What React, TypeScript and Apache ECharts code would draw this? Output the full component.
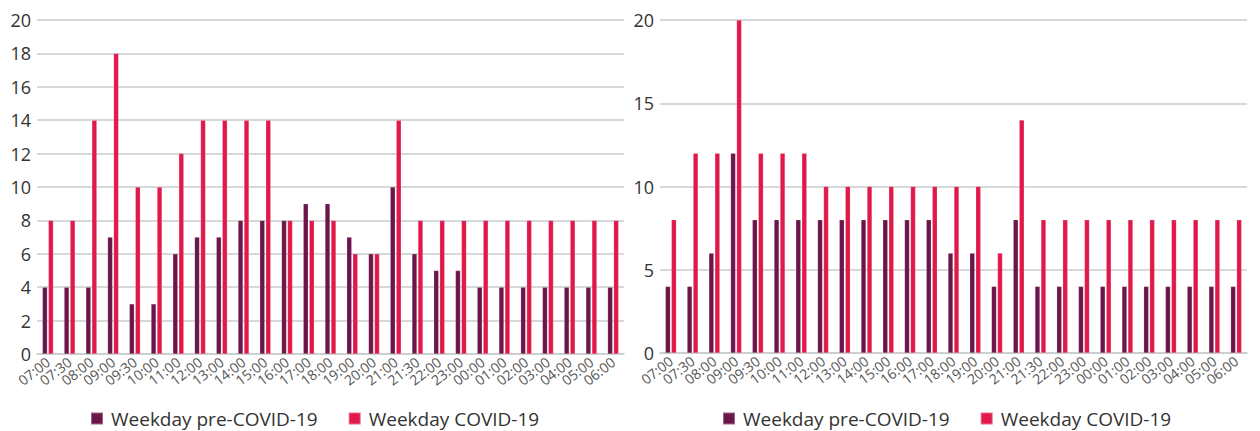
import React, { useEffect, useRef } from "react";
import * as echarts from "echarts";

const categories = ["07:00","07:30","08:00","09:00","09:30","10:00","11:00","12:00","13:00","14:00","15:00","16:00","17:00","18:00","19:00","20:00","21:00","21:30","22:00","23:00","00:00","01:00","02:00","03:00","04:00","05:00","06:00"];

const leftPre = [4,4,4,7,3,3,6,7,7,8,8,8,9,9,7,6,10,6,5,5,4,4,4,4,4,4,4];
const leftCovid = [8,8,14,18,10,10,12,14,14,14,14,8,8,8,6,6,14,8,8,8,8,8,8,8,8,8,8];
const rightPre = [4,4,6,12,8,8,8,8,8,8,8,8,8,6,6,4,8,4,4,4,4,4,4,4,4,4,4];
const rightCovid = [8,12,12,20,12,12,12,10,10,10,10,10,10,10,10,6,14,8,8,8,8,8,8,8,8,8,8];

const seriesNames = ["Weekday pre-COVID-19", "Weekday COVID-19"];
const PRE = "#6B1648";
const COVID = "#E0194A";
const FONT = "Open Sans";

export default function App() {
  const ref = useRef<HTMLDivElement>(null);
  useEffect(() => {
    const chart = echarts.init(ref.current!, undefined, { renderer: "svg" });
    const xAxis = (gi: number) => ({
      type: "category",
      gridIndex: gi,
      data: categories,
      axisTick: { show: false },
      axisLine: { lineStyle: { color: "#c8cccc", width: 1.5 } },
      axisLabel: { rotate: 38, fontSize: 14, color: "#555", fontFamily: FONT, interval: 0, margin: 6 },
    });
    const yAxis = (gi: number, interval: number) => ({
      type: "value",
      gridIndex: gi,
      min: 0,
      max: 20,
      interval,
      axisLine: { show: false },
      axisTick: { show: false },
      splitLine: { lineStyle: { color: "#c8cccc", width: 1.5 } },
      axisLabel: { fontSize: 18, color: "#333", fontFamily: FONT, margin: 6 },
    });
    const bar = (name: string, data: number[], color: string, gi: number) => ({
      type: "bar",
      name,
      xAxisIndex: gi,
      yAxisIndex: gi,
      data,
      barWidth: 5,
      barGap: "20%",
      itemStyle: { color, borderColor: "rgba(255,255,255,0.35)", borderWidth: 0.5 },
    });
    const legend = (left: number) => ({
      data: seriesNames,
      left,
      top: 404,
      itemWidth: 12,
      itemHeight: 12,
      itemGap: 30,
      icon: "rect",
      textStyle: { fontSize: 19, color: "#333", fontFamily: FONT, padding: [0, 0, 0, 3] },
    });
    chart.setOption({
      animation: false,
      textStyle: { fontFamily: FONT },
      grid: [
        { left: 37, right: 636, top: 20, bottom: 77, containLabel: false },
        { left: 660, right: 13, top: 20, bottom: 78, containLabel: false },
      ],
      xAxis: [xAxis(0), xAxis(1)],
      yAxis: [yAxis(0, 2), yAxis(1, 5)],
      legend: [legend(85), legend(717)],
      series: [
        bar(seriesNames[0], leftPre, PRE, 0),
        bar(seriesNames[1], leftCovid, COVID, 0),
        bar(seriesNames[0], rightPre, PRE, 1),
        bar(seriesNames[1], rightCovid, COVID, 1),
      ],
    });
    return () => chart.dispose();
  }, []);
  return <div ref={ref} style={{ width: 1260, height: 431, position: "absolute", left: 0, top: 0 }} />;
}
